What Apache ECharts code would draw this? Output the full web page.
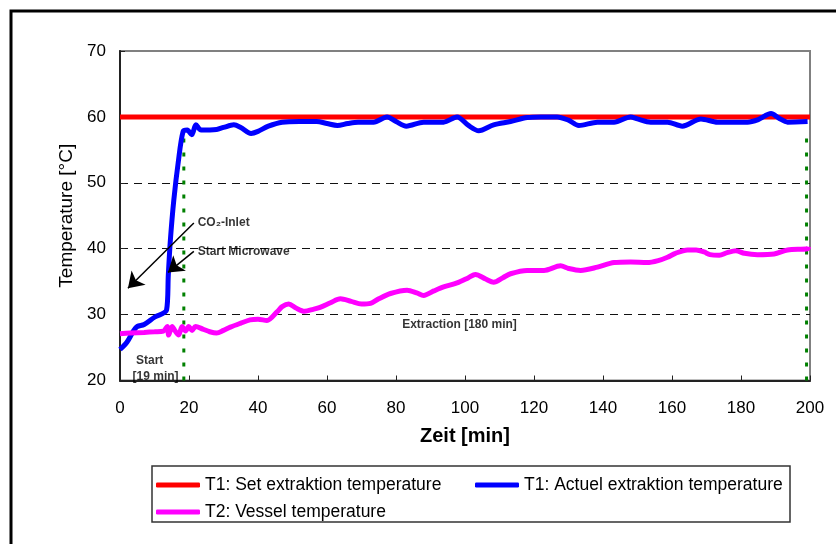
<!DOCTYPE html>
<html>
<head>
<meta charset="utf-8">
<script src="https://cdn.jsdelivr.net/npm/echarts@6/dist/echarts.min.js"></script>
<style>
  html, body { margin: 0; padding: 0; background: #fff; }
  #chart { width: 836px; height: 544px; }
</style>
</head>
<body>
<div id="chart"></div>
<script>
// T1 set temperature (constant)
var setTemp = [[0, 60], [200, 60]];

// T1 actual extraction temperature [min, °C]
var actualTemp = [
  [0, 24.7], [2, 25.8], [4, 27.6], [5, 28.2], [7, 28.5], [10, 29.6], [13.5, 30.7],
  [14.0, 36.0], [14.6, 41.3], [15.6, 47.4], [16.9, 53.2], [18.3, 57.8], [19.5, 58.0],
  [20.8, 57.3], [22.0, 58.8], [23.5, 58.0], [28, 58.1], [30, 58.4], [33, 58.8],
  [35, 58.4], [38, 57.5], [40, 57.8], [43, 58.6], [47, 59.2], [52, 59.3], [57, 59.3],
  [60, 59.0], [63, 58.7], [66, 59.0], [69, 59.2], [73.5, 59.2], [77.4, 60.0],
  [80, 59.3], [83, 58.6], [88, 59.2], [93.8, 59.2], [97.7, 60.0], [101, 58.7],
  [104, 57.9], [108.3, 58.8], [113.2, 59.3], [118, 59.9], [122, 60.0], [126.7, 60.0],
  [130, 59.5], [133, 58.7], [138.4, 59.2], [143.2, 59.2], [148, 60.0], [150, 59.7],
  [153.8, 59.2], [158.7, 59.2], [163, 58.6], [168.4, 59.7], [173.2, 59.2], [178, 59.2],
  [181.9, 59.2], [185, 59.6], [188.7, 60.5], [191, 59.8], [193.5, 59.2], [199.3, 59.3]
];

// T2 vessel temperature [min, °C]
var vesselTemp = [
  [0, 27.1], [3, 27.2], [7, 27.3], [10, 27.4], [12.6, 27.5], [13.7, 28.2], [14.1, 26.9],
  [15.1, 28.2], [16, 27.5], [17.0, 26.9], [18.0, 28.2], [19.0, 27.5], [19.9, 28.2],
  [20.9, 27.6], [21.9, 28.2], [24, 27.8], [26, 27.4], [28, 27.2], [30, 27.6], [32, 28.1],
  [35, 28.7], [37.7, 29.2], [40, 29.3], [42.6, 29.1], [45.5, 30.4], [47, 31.2],
  [48.9, 31.6], [51, 31.0], [53.5, 30.5], [56, 30.8], [58, 31.1], [61, 31.8], [63.9, 32.4],
  [67, 32.0], [70, 31.6], [72.6, 31.7], [75, 32.4], [78.4, 33.2], [83.2, 33.7], [86, 33.3],
  [88, 32.9], [91, 33.6], [93.8, 34.2], [97.7, 34.8], [101, 35.6], [103, 36.1], [106, 35.4],
  [108.3, 34.9], [111, 35.6], [113.2, 36.2], [118, 36.7], [122.9, 36.7], [127.7, 37.4],
  [130, 37.0], [133.5, 36.7], [138.4, 37.2], [143.2, 37.9], [148, 38.0], [152.8, 37.9],
  [156, 38.2], [158.7, 38.7], [161, 39.3], [164.5, 39.8], [167, 39.8], [169.3, 39.5],
  [171, 39.1], [173.7, 39.0], [176, 39.4], [178.5, 39.7], [181, 39.3], [184.8, 39.1],
  [189.6, 39.2], [193.5, 39.8], [199.3, 40.0], [199.6, 40.3]
];

// start / end of extraction (green dotted markers)
var markerX = [18.5, 199];
var markerTop = 58;

// arrows: [from, to]
var arrows = [
  [[21.4, 43.9], [2.3, 34.0]],
  [[21.4, 39.6], [13.9, 36.4]]
];

// text notes
var notes = [
  { x: 22.5, y: 43.9, text: 'CO\u2082-Inlet', pos: 'right' },
  { x: 22.5, y: 39.6, text: 'Start Microwave', pos: 'right' },
  { x: 98.4, y: 28.4, text: 'Extraction [180 min]', pos: 'inside' },
  { x: 8.6, y: 23.0, text: 'Start', pos: 'inside' },
  { x: 10.3, y: 20.6, text: '[19 min]', pos: 'inside' }
];

var seriesNames = [
  'T1: Set extraktion temperature',
  'T1: Actuel extraktion temperature',
  'T2: Vessel temperature'
];

var FONT = '"Liberation Sans", Arial, sans-serif';

var chart = echarts.init(document.getElementById('chart'));

var markerSeries = markerX.map(function (x) {
  return {
    type: 'line',
    data: [[x, 20], [x, markerTop]],
    symbol: 'none',
    silent: true,
    z: 1,
    lineStyle: { color: '#008000', width: 3, type: [4, 10] }
  };
});

var legendStyle = {
  icon: 'roundRect',
  itemWidth: 44,
  itemHeight: 5,
  textStyle: { fontFamily: FONT, fontSize: 17.5, color: '#000' },
  selectedMode: false
};

chart.setOption({
  animation: false,
  backgroundColor: '#fff',
  grid: {
    left: 120, top: 51, right: 26, bottom: 163.5,
    containLabel: false, outerBoundsMode: 'none',
    show: true, borderColor: '#808080', borderWidth: 2, backgroundColor: '#fff'
  },
  legend: [
    Object.assign({ data: [seriesNames[0]], left: 151, top: 471 }, legendStyle),
    Object.assign({ data: [seriesNames[1]], left: 470, top: 471 }, legendStyle),
    Object.assign({ data: [seriesNames[2]], left: 151, top: 498 }, legendStyle)
  ],
  xAxis: {
    type: 'value', min: 0, max: 200, interval: 20,
    name: 'Zeit [min]', nameLocation: 'middle', nameGap: 46,
    nameTextStyle: { fontFamily: FONT, fontSize: 20, fontWeight: 'bold', color: '#000' },
    axisLine: { lineStyle: { color: '#222', width: 2 } },
    axisTick: { inside: true, length: 5, lineStyle: { color: '#222' } },
    axisLabel: { fontFamily: FONT, fontSize: 17, color: '#000', margin: 19 },
    splitLine: { show: false }
  },
  yAxis: {
    type: 'value', min: 20, max: 70, interval: 10,
    name: 'Temperature [°C]', nameLocation: 'middle', nameGap: 44,
    nameTextStyle: { fontFamily: FONT, fontSize: 19, color: '#000' },
    axisLine: { show: true, lineStyle: { color: '#222', width: 2 } },
    axisTick: { show: true, inside: true, length: 5, lineStyle: { color: '#222' } },
    axisLabel: { fontFamily: FONT, fontSize: 17, color: '#000', margin: 14 },
    splitLine: {
      show: true,
      lineStyle: {
        color: ['rgba(0,0,0,0)', '#111', '#111', '#111', '#111', 'rgba(0,0,0,0)'],
        width: 1, type: [8, 6]
      }
    }
  },
  series: markerSeries.concat([
    {
      name: seriesNames[0], type: 'line', data: setTemp, symbol: 'none', z: 3,
      color: '#ff0000', lineStyle: { color: '#ff0000', width: 5 },
      markLine: {
        silent: true, symbol: ['none', 'arrow'], symbolSize: 15,
        label: { show: false },
        itemStyle: { color: '#000' },
        lineStyle: { color: '#000', width: 1.5, type: 'solid' },
        data: arrows.map(function (a) {
          return [{ coord: a[0] }, { coord: a[1] }];
        })
      }
    },
    {
      name: seriesNames[1], type: 'line', data: actualTemp, symbol: 'none', z: 4,
      smooth: 0.3, color: '#0000ff', lineStyle: { color: '#0000ff', width: 5 }
    },
    {
      name: seriesNames[2], type: 'line', data: vesselTemp, symbol: 'none', z: 4,
      smooth: 0.3, color: '#ff00ff', lineStyle: { color: '#ff00ff', width: 5 }
    },
    {
      type: 'scatter', symbolSize: 0, silent: true, z: 6,
      data: notes.map(function (n) {
        return {
          value: [n.x, n.y],
          label: {
            show: true, formatter: n.text, position: n.pos, distance: 0,
            fontFamily: FONT, fontSize: 12, fontWeight: 'bold', color: '#000'
          }
        };
      })
    }
  ]),
  graphic: [
    {
      type: 'rect', z: 100, silent: true,
      shape: { x: 11, y: 11, width: 900, height: 600 },
      style: { fill: 'none', stroke: '#000', lineWidth: 3 }
    },
    {
      type: 'rect', z: 100, silent: true,
      shape: { x: 152, y: 466, width: 638, height: 56 },
      style: { fill: 'none', stroke: '#333', lineWidth: 1.5 }
    }
  ]
});
</script>
</body>
</html>
